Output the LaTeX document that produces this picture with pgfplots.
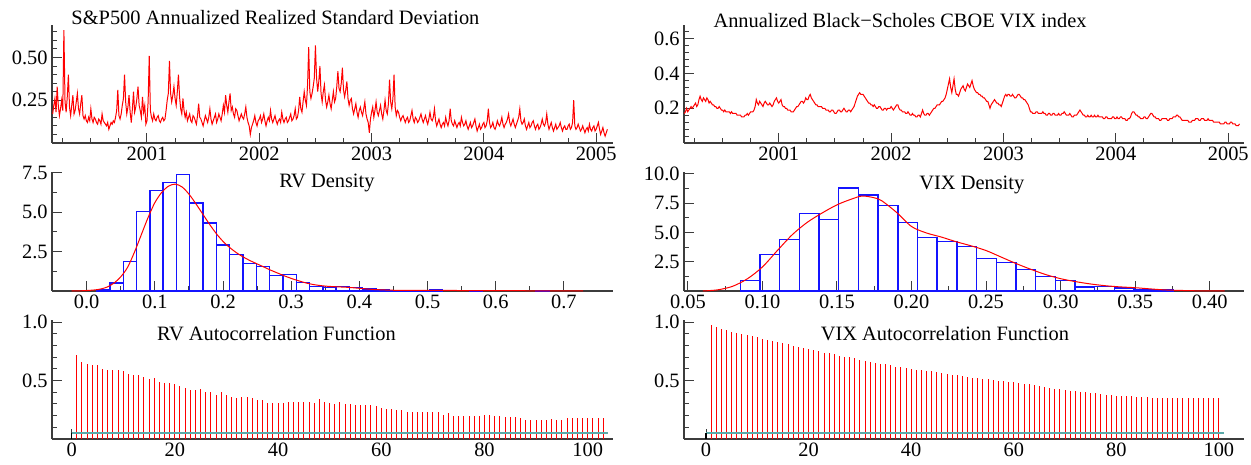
\documentclass[border=0pt]{standalone}
\usepackage{fontspec}
\setmainfont{Liberation Serif}
\usepackage{pgfplots}
\usepackage{pgfplotstable}
\pgfplotsset{compat=1.18}

\definecolor{acfband}{RGB}{90,170,170}
\definecolor{axgray}{RGB}{60,60,60}
\definecolor{histblue}{RGB}{20,20,255}

% daily series thinned to a 0.01-year step: year, realized sd, VIX
\pgfplotstableread{
yr rv vix
2000.16 0.17 0.17
2000.17 0.22 0.18
2000.18 0.26 0.20
2000.19 0.18 0.18
2000.20 0.33 0.19
2000.21 0.22 0.20
2000.22 0.16 0.21
2000.23 0.20 0.20
2000.24 0.25 0.21
2000.25 0.19 0.22
2000.26 0.66 0.23
2000.27 0.24 0.21
2000.28 0.18 0.22
2000.29 0.27 0.25
2000.30 0.40 0.27
2000.31 0.21 0.25
2000.32 0.16 0.24
2000.33 0.22 0.26
2000.34 0.28 0.25
2000.35 0.17 0.24
2000.36 0.19 0.26
2000.37 0.24 0.25
2000.38 0.29 0.23
2000.39 0.20 0.24
2000.40 0.17 0.23
2000.41 0.23 0.22
2000.42 0.28 0.22
2000.43 0.16 0.21
2000.44 0.14 0.21
2000.45 0.16 0.20
2000.46 0.13 0.20
2000.47 0.12 0.21
2000.48 0.15 0.20
2000.49 0.13 0.19
2000.50 0.20 0.19
2000.51 0.14 0.18
2000.52 0.12 0.19
2000.53 0.15 0.18
2000.54 0.14 0.18
2000.55 0.12 0.18
2000.56 0.11 0.18
2000.57 0.14 0.17
2000.58 0.13 0.18
2000.59 0.11 0.17
2000.60 0.17 0.17
2000.61 0.13 0.17
2000.62 0.12 0.17
2000.63 0.11 0.16
2000.64 0.10 0.16
2000.65 0.12 0.16
2000.66 0.08 0.16
2000.67 0.10 0.15
2000.68 0.12 0.15
2000.69 0.11 0.15
2000.70 0.13 0.16
2000.71 0.12 0.16
2000.72 0.15 0.17
2000.73 0.19 0.16
2000.74 0.31 0.17
2000.75 0.16 0.18
2000.76 0.14 0.18
2000.77 0.17 0.18
2000.78 0.22 0.19
2000.79 0.26 0.21
2000.80 0.40 0.25
2000.81 0.24 0.23
2000.82 0.17 0.22
2000.83 0.21 0.24
2000.84 0.28 0.23
2000.85 0.18 0.22
2000.86 0.12 0.21
2000.87 0.20 0.23
2000.88 0.30 0.24
2000.89 0.18 0.23
2000.90 0.21 0.22
2000.91 0.26 0.22
2000.92 0.33 0.23
2000.93 0.22 0.22
2000.94 0.19 0.21
2000.95 0.15 0.22
2000.96 0.27 0.24
2000.97 0.18 0.25
2000.98 0.22 0.26
2000.99 0.11 0.24
2001.00 0.13 0.23
2001.01 0.24 0.24
2001.02 0.51 0.25
2001.03 0.19 0.22
2001.04 0.15 0.21
2001.05 0.13 0.21
2001.06 0.17 0.20
2001.07 0.14 0.20
2001.08 0.13 0.19
2001.09 0.15 0.19
2001.10 0.16 0.19
2001.11 0.13 0.18
2001.12 0.12 0.18
2001.13 0.14 0.18
2001.14 0.15 0.19
2001.15 0.13 0.20
2001.16 0.14 0.21
2001.17 0.19 0.21
2001.18 0.25 0.22
2001.19 0.29 0.23
2001.20 0.48 0.24
2001.21 0.29 0.24
2001.22 0.24 0.23
2001.23 0.28 0.24
2001.24 0.33 0.26
2001.25 0.26 0.25
2001.26 0.22 0.25
2001.27 0.30 0.27
2001.28 0.40 0.28
2001.29 0.27 0.26
2001.30 0.20 0.25
2001.31 0.17 0.24
2001.32 0.26 0.23
2001.33 0.19 0.22
2001.34 0.15 0.22
2001.35 0.18 0.21
2001.36 0.13 0.21
2001.37 0.15 0.21
2001.38 0.17 0.21
2001.39 0.13 0.20
2001.40 0.12 0.20
2001.41 0.16 0.20
2001.42 0.15 0.19
2001.43 0.13 0.19
2001.44 0.11 0.19
2001.45 0.16 0.18
2001.46 0.23 0.18
2001.47 0.15 0.19
2001.48 0.14 0.19
2001.49 0.12 0.18
2001.50 0.10 0.17
2001.51 0.13 0.17
2001.52 0.16 0.18
2001.53 0.14 0.19
2001.54 0.12 0.19
2001.55 0.15 0.18
2001.56 0.20 0.18
2001.57 0.14 0.19
2001.58 0.11 0.20
2001.59 0.13 0.19
2001.60 0.15 0.18
2001.61 0.17 0.18
2001.62 0.12 0.19
2001.63 0.14 0.19
2001.64 0.17 0.18
2001.65 0.15 0.19
2001.66 0.13 0.20
2001.67 0.17 0.21
2001.68 0.22 0.23
2001.69 0.18 0.25
2001.70 0.28 0.27
2001.71 0.22 0.28
2001.72 0.18 0.29
2001.73 0.24 0.28
2001.74 0.29 0.28
2001.75 0.19 0.28
2001.76 0.21 0.27
2001.77 0.17 0.26
2001.78 0.15 0.25
2001.79 0.20 0.24
2001.80 0.19 0.23
2001.81 0.16 0.23
2001.82 0.13 0.22
2001.83 0.15 0.22
2001.84 0.17 0.21
2001.85 0.15 0.22
2001.86 0.14 0.21
2001.87 0.17 0.20
2001.88 0.21 0.20
2001.89 0.15 0.21
2001.90 0.12 0.21
2001.91 0.10 0.20
2001.92 0.05 0.19
2001.93 0.09 0.19
2001.94 0.11 0.20
2001.95 0.13 0.20
2001.96 0.16 0.19
2001.97 0.12 0.20
2001.98 0.10 0.20
2001.99 0.13 0.20
2002.00 0.14 0.21
2002.01 0.16 0.20
2002.02 0.12 0.19
2002.03 0.14 0.20
2002.04 0.17 0.21
2002.05 0.13 0.22
2002.06 0.10 0.22
2002.07 0.13 0.20
2002.08 0.15 0.19
2002.09 0.13 0.19
2002.10 0.19 0.18
2002.11 0.14 0.18
2002.12 0.12 0.18
2002.13 0.14 0.17
2002.14 0.16 0.17
2002.15 0.13 0.18
2002.16 0.11 0.17
2002.17 0.13 0.16
2002.18 0.14 0.16
2002.19 0.12 0.17
2002.20 0.18 0.16
2002.21 0.14 0.16
2002.22 0.12 0.15
2002.23 0.14 0.15
2002.24 0.15 0.16
2002.25 0.12 0.16
2002.26 0.13 0.15
2002.27 0.15 0.17
2002.28 0.17 0.19
2002.29 0.13 0.17
2002.30 0.14 0.16
2002.31 0.16 0.16
2002.32 0.20 0.17
2002.33 0.14 0.17
2002.34 0.15 0.16
2002.35 0.19 0.17
2002.36 0.27 0.18
2002.37 0.20 0.19
2002.38 0.18 0.20
2002.39 0.24 0.20
2002.40 0.30 0.21
2002.41 0.25 0.22
2002.42 0.22 0.22
2002.43 0.34 0.22
2002.44 0.56 0.23
2002.45 0.30 0.24
2002.46 0.26 0.24
2002.47 0.29 0.25
2002.48 0.33 0.26
2002.49 0.38 0.28
2002.50 0.57 0.31
2002.51 0.38 0.34
2002.52 0.30 0.37
2002.53 0.36 0.32
2002.54 0.45 0.29
2002.55 0.29 0.33
2002.56 0.24 0.37
2002.57 0.30 0.31
2002.58 0.34 0.28
2002.59 0.25 0.28
2002.60 0.21 0.27
2002.61 0.24 0.29
2002.62 0.28 0.31
2002.63 0.23 0.32
2002.64 0.20 0.33
2002.65 0.25 0.31
2002.66 0.30 0.30
2002.67 0.24 0.32
2002.68 0.26 0.34
2002.69 0.33 0.33
2002.70 0.42 0.32
2002.71 0.32 0.34
2002.72 0.30 0.36
2002.73 0.35 0.33
2002.74 0.44 0.31
2002.75 0.31 0.30
2002.76 0.27 0.29
2002.77 0.31 0.29
2002.78 0.36 0.28
2002.79 0.26 0.28
2002.80 0.22 0.27
2002.81 0.25 0.27
2002.82 0.26 0.26
2002.83 0.20 0.26
2002.84 0.17 0.25
2002.85 0.20 0.24
2002.86 0.23 0.24
2002.87 0.18 0.22
2002.88 0.15 0.20
2002.89 0.19 0.22
2002.90 0.21 0.23
2002.91 0.18 0.24
2002.92 0.16 0.25
2002.93 0.20 0.24
2002.94 0.24 0.23
2002.95 0.17 0.23
2002.96 0.14 0.22
2002.97 0.12 0.22
2002.98 0.06 0.21
2002.99 0.14 0.23
2003.00 0.18 0.25
2003.01 0.21 0.27
2003.02 0.15 0.28
2003.03 0.19 0.27
2003.04 0.24 0.28
2003.05 0.18 0.28
2003.06 0.16 0.27
2003.07 0.19 0.27
2003.08 0.22 0.28
2003.09 0.17 0.27
2003.10 0.14 0.26
2003.11 0.19 0.26
2003.12 0.25 0.27
2003.13 0.19 0.28
2003.14 0.17 0.28
2003.15 0.23 0.27
2003.16 0.37 0.26
2003.17 0.24 0.26
2003.18 0.20 0.25
2003.19 0.26 0.25
2003.20 0.40 0.24
2003.21 0.21 0.23
2003.22 0.16 0.22
2003.23 0.19 0.20
2003.24 0.18 0.18
2003.25 0.15 0.18
2003.26 0.13 0.17
2003.27 0.15 0.17
2003.28 0.16 0.17
2003.29 0.14 0.18
2003.30 0.12 0.18
2003.31 0.14 0.17
2003.32 0.15 0.17
2003.33 0.12 0.17
2003.34 0.13 0.17
2003.35 0.16 0.18
2003.36 0.19 0.17
2003.37 0.14 0.17
2003.38 0.12 0.16
2003.39 0.15 0.16
2003.40 0.14 0.17
2003.41 0.12 0.17
2003.42 0.13 0.16
2003.43 0.15 0.16
2003.44 0.17 0.17
2003.45 0.14 0.17
2003.46 0.12 0.16
2003.47 0.14 0.16
2003.48 0.16 0.16
2003.49 0.13 0.17
2003.50 0.11 0.16
2003.51 0.14 0.16
2003.52 0.18 0.17
2003.53 0.14 0.17
2003.54 0.13 0.18
2003.55 0.15 0.17
2003.56 0.20 0.16
2003.57 0.13 0.16
2003.58 0.10 0.16
2003.59 0.12 0.17
2003.60 0.14 0.16
2003.61 0.11 0.15
2003.62 0.09 0.15
2003.63 0.11 0.16
2003.64 0.12 0.16
2003.65 0.10 0.16
2003.66 0.15 0.17
2003.67 0.12 0.18
2003.68 0.10 0.19
2003.69 0.13 0.18
2003.70 0.20 0.17
2003.71 0.13 0.16
2003.72 0.11 0.16
2003.73 0.10 0.15
2003.74 0.13 0.15
2003.75 0.11 0.16
2003.76 0.09 0.15
2003.77 0.11 0.15
2003.78 0.12 0.16
2003.79 0.10 0.15
2003.80 0.15 0.15
2003.81 0.12 0.16
2003.82 0.10 0.15
2003.83 0.11 0.15
2003.84 0.13 0.16
2003.85 0.10 0.15
2003.86 0.08 0.15
2003.87 0.10 0.15
2003.88 0.12 0.15
2003.89 0.09 0.14
2003.90 0.10 0.14
2003.91 0.12 0.15
2003.92 0.14 0.15
2003.93 0.10 0.14
2003.94 0.07 0.14
2003.95 0.09 0.14
2003.96 0.11 0.14
2003.97 0.08 0.15
2003.98 0.09 0.15
2003.99 0.11 0.14
2004.00 0.12 0.14
2004.01 0.09 0.15
2004.02 0.10 0.14
2004.03 0.13 0.14
2004.04 0.20 0.15
2004.05 0.12 0.15
2004.06 0.09 0.14
2004.07 0.10 0.14
2004.08 0.12 0.14
2004.09 0.09 0.13
2004.10 0.08 0.13
2004.11 0.10 0.14
2004.12 0.13 0.14
2004.13 0.11 0.15
2004.14 0.10 0.17
2004.15 0.12 0.18
2004.16 0.15 0.18
2004.17 0.11 0.17
2004.18 0.09 0.16
2004.19 0.11 0.16
2004.20 0.12 0.15
2004.21 0.14 0.15
2004.22 0.17 0.14
2004.23 0.12 0.14
2004.24 0.10 0.14
2004.25 0.12 0.15
2004.26 0.14 0.15
2004.27 0.11 0.14
2004.28 0.09 0.14
2004.29 0.11 0.15
2004.30 0.13 0.16
2004.31 0.15 0.17
2004.32 0.20 0.17
2004.33 0.13 0.16
2004.34 0.11 0.15
2004.35 0.12 0.15
2004.36 0.14 0.14
2004.37 0.10 0.14
2004.38 0.08 0.14
2004.39 0.10 0.13
2004.40 0.12 0.13
2004.41 0.09 0.14
2004.42 0.10 0.14
2004.43 0.12 0.14
2004.44 0.13 0.14
2004.45 0.10 0.14
2004.46 0.08 0.13
2004.47 0.10 0.13
2004.48 0.11 0.14
2004.49 0.08 0.14
2004.50 0.09 0.14
2004.51 0.11 0.15
2004.52 0.14 0.15
2004.53 0.11 0.15
2004.54 0.10 0.16
2004.55 0.12 0.16
2004.56 0.17 0.15
2004.57 0.11 0.15
2004.58 0.08 0.14
2004.59 0.10 0.13
2004.60 0.12 0.13
2004.61 0.09 0.13
2004.62 0.07 0.13
2004.63 0.09 0.13
2004.64 0.11 0.13
2004.65 0.08 0.12
2004.66 0.09 0.12
2004.67 0.10 0.12
2004.68 0.12 0.13
2004.69 0.09 0.13
2004.70 0.07 0.13
2004.71 0.09 0.14
2004.72 0.10 0.14
2004.73 0.08 0.14
2004.74 0.08 0.13
2004.75 0.10 0.13
2004.76 0.11 0.14
2004.77 0.08 0.14
2004.78 0.09 0.14
2004.79 0.12 0.13
2004.80 0.25 0.13
2004.81 0.10 0.13
2004.82 0.08 0.14
2004.83 0.09 0.13
2004.84 0.11 0.13
2004.85 0.09 0.13
2004.86 0.07 0.13
2004.87 0.08 0.12
2004.88 0.10 0.12
2004.89 0.08 0.12
2004.90 0.06 0.12
2004.91 0.08 0.12
2004.92 0.09 0.12
2004.93 0.07 0.11
2004.94 0.11 0.11
2004.95 0.08 0.11
2004.96 0.07 0.11
2004.97 0.09 0.12
2004.98 0.10 0.12
2004.99 0.07 0.11
2005.00 0.08 0.11
2005.01 0.10 0.11
2005.02 0.12 0.12
2005.03 0.08 0.12
2005.04 0.05 0.11
2005.05 0.07 0.11
2005.06 0.09 0.11
2005.07 0.06 0.10
2005.08 0.04 0.10
2005.09 0.06 0.10
2005.10 0.08 0.11
}\tsdata

\pgfplotsset{
  oxax/.style={
    scale only axis,
    axis lines=left,
    axis line style={-, axgray, line width=0.6pt},
    tick style={axgray, line width=0.5pt},
    tick align=inside,
    major tick length=5pt,
    minor tick length=2.5pt,
    enlargelimits=false,
    clip=false,
    anchor=south west,
    tick label style={font=\fontsize{10.2}{11}\selectfont},
    xticklabel style={inner sep=2pt},
    yticklabel style={inner sep=2pt},
  },
}
\tikzset{oxtitle/.style={font=\fontsize{10.2}{11}\selectfont, inner sep=0pt}}

\begin{document}
\begin{tikzpicture}
\useasboundingbox (0,0) rectangle (625.5pt,232.5pt);

% ---- row 1: time series
\begin{axis}[oxax, at={(26pt,161pt)}, width=280.5pt, height=59pt,
  xmin=2000.154, xmax=2005.15, ymin=0, ymax=0.69,
  xtick={2001,2002,2003,2004,2005}, xticklabels={2001,2002,2003,2004,2005},
  minor xtick={2000.25,2000.5,2000.75,2001.25,2001.5,2001.75,2002.25,2002.5,2002.75,2003.25,2003.5,2003.75,2004.25,2004.5,2004.75},
  ytick={0.25,0.5}, yticklabels={0.25,0.50},
  minor ytick={0.05,0.1,0.15,0.2,0.3,0.35,0.4,0.45,0.55,0.6,0.65}]
  \addplot[red, line width=0.5pt] table[x=yr, y=rv] {\tsdata};
  \node[oxtitle, anchor=base west] at (rel axis cs:0.034,1.0) {S\&P500 Annualized Realized Standard Deviation};
\end{axis}

\begin{axis}[oxax, at={(342pt,161pt)}, width=280pt, height=59pt,
  xmin=2000.157, xmax=2005.14, ymin=0, ymax=0.68,
  xtick={2001,2002,2003,2004,2005}, xticklabels={2001,2002,2003,2004,2005},
  minor xtick={2000.25,2000.5,2000.75,2001.25,2001.5,2001.75,2002.25,2002.5,2002.75,2003.25,2003.5,2003.75,2004.25,2004.5,2004.75},
  ytick={0.2,0.4,0.6}, yticklabels={0.2,0.4,0.6},
  minor ytick={0.04,0.08,0.12,0.16,0.24,0.28,0.32,0.36,0.44,0.48,0.52,0.56,0.64}]
  \addplot[red, line width=0.5pt] table[x=yr, y=vix] {\tsdata};
  \node[oxtitle, anchor=base west] at (rel axis cs:0.052,0.975) {Annualized Black−Scholes CBOE VIX index};
\end{axis}

% ---- row 2: densities
\begin{axis}[oxax, at={(26pt,87pt)}, width=280.5pt, height=59.5pt,
  xmin=-0.0508, xmax=0.772, ymin=0, ymax=7.55,
  xtick={0,0.1,0.2,0.3,0.4,0.5,0.6,0.7},
  xticklabels={0.0,0.1,0.2,0.3,0.4,0.5,0.6,0.7},
  minor xtick={0.05,0.15,0.25,0.35,0.45,0.55,0.65},
  ytick={2.5,5,7.5}, yticklabels={2.5,5.0,7.5},
  minor ytick={1.25,3.75,6.25}]
  \addplot[ybar, bar width=0.0195, bar shift=0pt, draw=histblue, fill=none, line width=0.7pt] coordinates {
    (0.0244,0.06) (0.0439,0.50) (0.0634,1.87) (0.0829,5.06) (0.1024,6.38)
    (0.1220,6.87) (0.1415,7.38) (0.1610,5.57) (0.1805,4.32) (0.2000,2.91)
    (0.2196,2.32) (0.2391,1.74) (0.2586,1.57) (0.2781,0.98) (0.2976,1.04)
    (0.3172,0.55) (0.3367,0.30) (0.3562,0.23) (0.3757,0.30) (0.3952,0.23)
    (0.4148,0.13) (0.4343,0.06) (0.4538,0.04) (0.4733,0.02) (0.4928,0.02)
    (0.5124,0.06) (0.5709,0.04) (0.6685,0.03)};
  \addplot[red, line width=0.5pt, smooth] coordinates {
    (-0.022,0) (-0.01,0.01) (0,0.03) (0.01,0.06) (0.02,0.12) (0.03,0.25)
    (0.04,0.50) (0.05,0.90) (0.06,1.50) (0.07,2.45) (0.08,3.55) (0.09,4.65)
    (0.10,5.60) (0.11,6.25) (0.12,6.65) (0.13,6.78) (0.14,6.60) (0.15,6.15)
    (0.16,5.55) (0.17,4.90) (0.18,4.25) (0.19,3.65) (0.20,3.15) (0.21,2.75)
    (0.22,2.42) (0.23,2.15) (0.24,1.92) (0.25,1.72) (0.26,1.52) (0.27,1.32)
    (0.28,1.14) (0.29,0.96) (0.30,0.80) (0.31,0.66) (0.32,0.53) (0.33,0.43)
    (0.34,0.36) (0.35,0.31) (0.36,0.28) (0.37,0.26) (0.38,0.24) (0.39,0.21)
    (0.40,0.17) (0.42,0.10) (0.44,0.06) (0.46,0.04) (0.50,0.04) (0.55,0.03)
    (0.60,0.02) (0.65,0.015) (0.70,0.01) (0.728,0)};
  \node[oxtitle, anchor=base] at (rel axis cs:0.49,0.866) {RV Density};
\end{axis}

\begin{axis}[oxax, at={(342pt,87pt)}, width=280pt, height=59.5pt,
  xmin=0.0474, xmax=0.423, ymin=0, ymax=10.15,
  xtick={0.05,0.1,0.15,0.2,0.25,0.3,0.35,0.4},
  xticklabels={0.05,0.10,0.15,0.20,0.25,0.30,0.35,0.40},
  minor xtick={0.075,0.125,0.175,0.225,0.275,0.325,0.375},
  ytick={2.5,5,7.5,10}, yticklabels={2.5,5.0,7.5,10.0},
  minor ytick={1.25,3.75,6.25,8.75}]
  \addplot[ybar, bar width=0.0132, bar shift=0pt, draw=histblue, fill=none, line width=0.7pt] coordinates {
    (0.0918,0.91) (0.1050,3.10) (0.1182,4.37) (0.1314,6.60) (0.1446,6.10)
    (0.1578,8.80) (0.1710,8.20) (0.1842,7.30) (0.1974,5.85) (0.2106,4.57)
    (0.2238,4.20) (0.2370,3.78) (0.2502,2.76) (0.2634,2.44) (0.2766,1.85)
    (0.2898,1.22) (0.3030,0.88) (0.3162,0.34) (0.3294,0.37) (0.3426,0.26)
    (0.3558,0.11) (0.3690,0.09)};
  \addplot[red, line width=0.5pt, smooth] coordinates {
    (0.06,0) (0.07,0.10) (0.08,0.40) (0.09,1.05) (0.10,2.05) (0.11,3.45)
    (0.12,4.80) (0.13,5.85) (0.14,6.65) (0.15,7.35) (0.16,7.85) (0.167,8.10)
    (0.175,7.95) (0.18,7.70) (0.19,6.70) (0.20,5.50) (0.21,4.95) (0.22,4.60)
    (0.23,4.20) (0.24,3.85) (0.25,3.45) (0.26,2.90) (0.27,2.35) (0.28,1.85)
    (0.29,1.40) (0.30,1.05) (0.31,0.80) (0.32,0.60) (0.33,0.45) (0.34,0.35)
    (0.35,0.28) (0.36,0.18) (0.37,0.09) (0.38,0.05) (0.39,0.02) (0.40,0.01)
    (0.41,0)};
  \node[oxtitle, anchor=base] at (rel axis cs:0.514,0.85) {VIX Density};
\end{axis}

% ---- row 3: autocorrelation functions
\begin{axis}[oxax, at={(26pt,13pt)}, width=280.5pt, height=59.5pt,
  xmin=-3.8, xmax=104.9, ymin=0, ymax=1.02,
  xtick={0,20,40,60,80,100}, xticklabels={0,20,40,60,80,100},
  minor xtick={10,30,50,70,90},
  ytick={0.5,1}, yticklabels={0.5,1.0},
  minor ytick={0.1,0.2,0.3,0.4,0.6,0.7,0.8,0.9}]
  \addplot[ycomb, red, line width=0.5pt] coordinates {
    (1,0.72) (2,0.66) (3,0.64) (4,0.63) (5,0.63) (6,0.60) (7,0.59) (8,0.59)
    (9,0.59) (10,0.58) (11,0.56) (12,0.55) (13,0.55) (14,0.53) (15,0.51)
    (16,0.52) (17,0.49) (18,0.48) (19,0.48) (20,0.47) (21,0.45) (22,0.44)
    (23,0.42) (24,0.42) (25,0.43) (26,0.40) (27,0.40) (28,0.38) (29,0.40)
    (30,0.38) (31,0.36) (32,0.35) (33,0.36) (34,0.36) (35,0.35) (36,0.33)
    (37,0.33) (38,0.31) (39,0.31) (40,0.31) (41,0.31) (42,0.32) (43,0.32)
    (44,0.32) (45,0.32) (46,0.32) (47,0.31) (48,0.34) (49,0.32) (50,0.31)
    (51,0.30) (52,0.32) (53,0.30) (54,0.30) (55,0.29) (56,0.29) (57,0.29)
    (58,0.29) (59,0.28) (60,0.27) (61,0.26) (62,0.26) (63,0.25) (64,0.25)
    (65,0.23) (66,0.23) (67,0.23) (68,0.23) (69,0.23) (70,0.23) (71,0.23)
    (72,0.21) (73,0.22) (74,0.20) (75,0.20) (76,0.20) (77,0.20) (78,0.20)
    (79,0.20) (80,0.21) (81,0.21) (82,0.20) (83,0.20) (84,0.19) (85,0.19)
    (86,0.19) (87,0.18) (88,0.16) (89,0.16) (90,0.16) (91,0.16) (92,0.16)
    (93,0.17) (94,0.16) (95,0.16) (96,0.18) (97,0.18) (98,0.18) (99,0.18)
    (100,0.18) (101,0.18) (102,0.18) (103,0.18)};
  \addplot[acfband, line width=0.85pt] coordinates {(0,0.05) (104,0.05)};
  \addplot[black, line width=0.6pt] coordinates {(0,0) (0,0.05)};
  \node[oxtitle, anchor=base] at (rel axis cs:0.40,0.83) {RV Autocorrelation Function};
\end{axis}

\begin{axis}[oxax, at={(342pt,13pt)}, width=280pt, height=59.5pt,
  xmin=-4.3, xmax=104.9, ymin=0, ymax=1.02,
  xtick={0,20,40,60,80,100}, xticklabels={0,20,40,60,80,100},
  minor xtick={10,30,50,70,90},
  ytick={0.5,1}, yticklabels={0.5,1.0},
  minor ytick={0.1,0.2,0.3,0.4,0.6,0.7,0.8,0.9}]
  \addplot[ycomb, red, line width=0.5pt] coordinates {
    (1,0.98) (2,0.96) (3,0.945) (4,0.93) (5,0.92) (6,0.91) (7,0.90) (8,0.89)
    (9,0.88) (10,0.87) (11,0.86) (12,0.85) (13,0.84) (14,0.83) (15,0.82)
    (16,0.81) (17,0.80) (18,0.79) (19,0.78) (20,0.77) (21,0.76) (22,0.75)
    (23,0.74) (24,0.735) (25,0.725) (26,0.715) (27,0.705) (28,0.70) (29,0.69)
    (30,0.68) (31,0.67) (32,0.66) (33,0.65) (34,0.645) (35,0.64) (36,0.63)
    (37,0.62) (38,0.615) (39,0.61) (40,0.60) (41,0.595) (42,0.59) (43,0.585)
    (44,0.58) (45,0.57) (46,0.565) (47,0.56) (48,0.55) (49,0.545) (50,0.54)
    (51,0.53) (52,0.525) (53,0.52) (54,0.515) (55,0.51) (56,0.505) (57,0.50)
    (58,0.495) (59,0.49) (60,0.485) (61,0.48) (62,0.475) (63,0.47) (64,0.46)
    (65,0.45) (66,0.445) (67,0.44) (68,0.43) (69,0.425) (70,0.42) (71,0.415)
    (72,0.41) (73,0.405) (74,0.40) (75,0.395) (76,0.39) (77,0.385) (78,0.38)
    (79,0.375) (80,0.37) (81,0.37) (82,0.365) (83,0.365) (84,0.36) (85,0.36)
    (86,0.36) (87,0.355) (88,0.355) (89,0.35) (90,0.35) (91,0.35) (92,0.35)
    (93,0.35) (94,0.35) (95,0.35) (96,0.35) (97,0.35) (98,0.35) (99,0.35)
    (100,0.35)};
  \addplot[acfband, line width=0.85pt] coordinates {(0,0.05) (101,0.05)};
  \addplot[black, line width=0.6pt] coordinates {(0,0) (0,0.05)};
  \node[oxtitle, anchor=base] at (rel axis cs:0.466,0.83) {VIX Autocorrelation Function};
\end{axis}
\end{tikzpicture}
\end{document}
